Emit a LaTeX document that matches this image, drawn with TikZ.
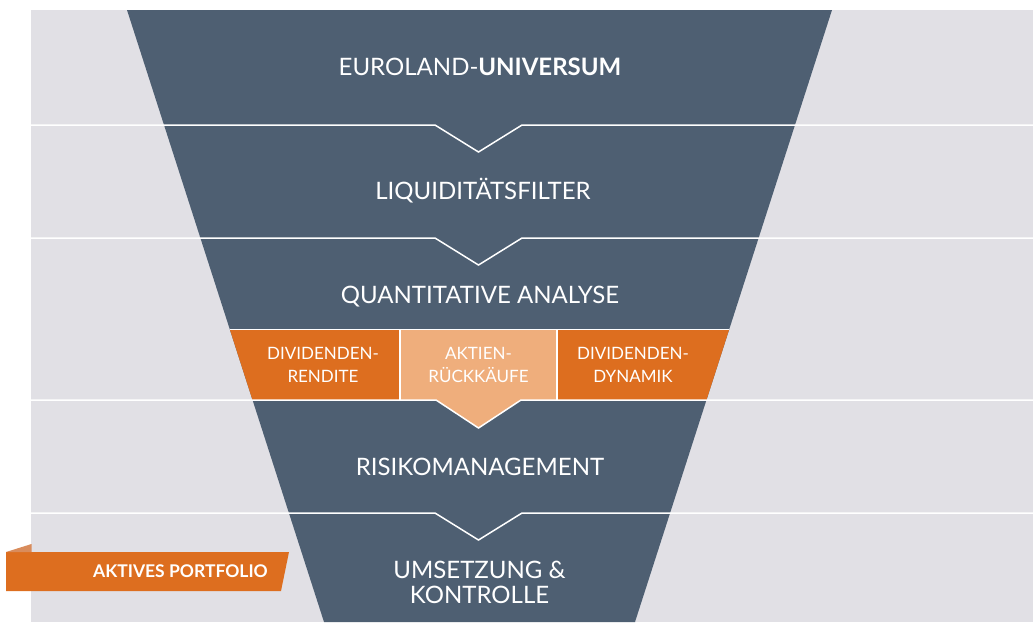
\documentclass[tikz,border=0pt]{standalone}
\usepackage{fontspec}
\setmainfont{Lato}
\usetikzlibrary{positioning}
\definecolor{bggrey}{HTML}{E1E0E5}
\definecolor{slate}{HTML}{4E5F72}
\definecolor{dorange}{HTML}{DD6E1F}
\definecolor{lorange}{HTML}{EFAE7C}
\definecolor{foldcol}{HTML}{D98C5C}
\tikzstyle{stage} = [text=white, font=\fontsize{24}{25}\selectfont, anchor=base, inner sep=0pt, align=center]
\tikzstyle{factor} = [text=white, font=\fontsize{17}{23}\selectfont, anchor=base, inner sep=0pt, align=center]
\tikzstyle{tabtext} = [text=white, font=\fontsize{17.5}{20}\selectfont\bfseries, anchor=base east, inner sep=0pt]
\tikzstyle{sep} = [white, line width=1.5pt]

\begin{document}
\begin{tikzpicture}[x=1pt,y=-1pt]
	\useasboundingbox (0,0) rectangle (1033,622);
	\fill [bggrey] (31,10) rectangle (1033,622);
	\fill [slate] (127,10) -- (832,10) -- (635,622) -- (324,622) -- cycle;
	
	\foreach \y in {125,238,513}
		\draw [sep] (31,\y) -- (435,\y) -- (478.5,\y+27) -- (522,\y) -- (1033,\y);
	
	\fill [dorange] (230,330) -- (400,330) -- (400,400) -- (252.5,400) -- cycle;
	\fill [dorange] (557,330) -- (729,330) -- (706.5,400) -- (557,400) -- cycle;
	\fill [lorange] (400,330) -- (557,330) -- (557,400) -- (521,400) -- (478.5,428) -- (436,400) -- (400,400) -- cycle;
	\draw [sep] (230,329.5) -- (729,329.5);
	\draw [sep] (400,330) -- (400,400);
	\draw [sep] (557,330) -- (557,400);
	\draw [sep] (31,400) -- (436,400) -- (478.5,428) -- (521,400) -- (1033,400);
	
	\fill [dorange] (6,552) -- (289,552) -- (281,591) -- (6,591) -- cycle;
	\fill [foldcol] (6,552) -- (31.5,544) -- (31.5,552) -- cycle;
	
	\node (universe) [stage] at (480,75) {EUROLAND-\textbf{UNIVERSUM}};
	\node (liquid) [stage] at (483,199) {LIQUIDITÄTSFILTER};
	\node (quant) [stage] at (480,303) {QUANTITATIVE ANALYSE};
	\node (yield) [factor] at (323,382) {DIVIDENDEN-\\RENDITE};
	\node (buyback) [factor] at (478.5,382) {AKTIEN-\\RÜCKKÄUFE};
	\node (growth) [factor] at (633,382) {DIVIDENDEN-\\DYNAMIK};
	\node (risk) [stage] at (480,475) {RISIKOMANAGEMENT};
	\node (control) [stage] at (479.5,603) {UMSETZUNG \&\\KONTROLLE};
	\node (portfolio) [tabtext] at (268,577) {AKTIVES PORTFOLIO};
\end{tikzpicture}
\end{document}
